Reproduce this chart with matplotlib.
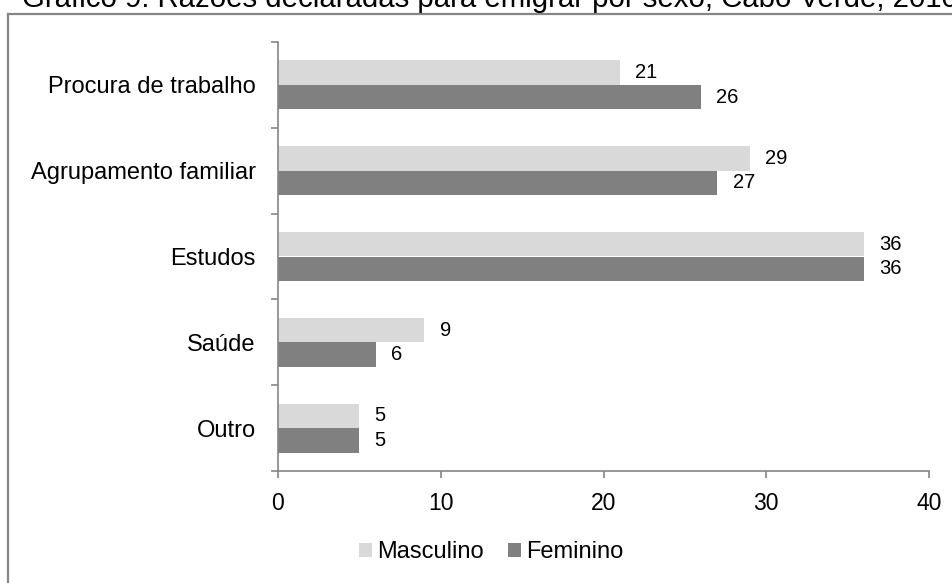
import matplotlib.pyplot as plt
import numpy as np
from matplotlib.lines import Line2D

plt.rcParams['font.family'] = ['Liberation Sans', 'DejaVu Sans']

titulo = "Gráfico 9: Razões declaradas para emigrar por sexo, Cabo Verde, 2010"
razoes = ["Procura de trabalho", "Agrupamento familiar", "Estudos", "Saúde", "Outro"]
masculino = [21, 29, 36, 9, 5]
feminino = [26, 27, 36, 6, 5]

cor_masc = "#d9d9d9"
cor_fem = "#808080"
cor_eixo = "#868686"

W, H = 953, 583
fig = plt.figure(figsize=(W / 100, H / 100), dpi=100)

# moldura do gráfico (só topo e lado esquerdo cabem na imagem)
fig.add_artist(Line2D([8 / W, 1], [1 - 14 / H, 1 - 14 / H], color=cor_eixo, lw=1.6,
                      transform=fig.transFigure))
fig.add_artist(Line2D([8 / W, 8 / W], [0, 1 - 14 / H], color=cor_eixo, lw=1.6,
                      transform=fig.transFigure))
fig.text(22 / W, 1 - 7 / H, titulo, fontsize=21.2, va='baseline', ha='left')

ax = fig.add_axes([278 / W, 1 - 471 / H, (929 - 278) / W, (471 - 42) / H])

y = np.arange(len(razoes))
h = 0.286
ax.barh(y - h / 2, masculino, height=h, color=cor_masc, label="Masculino")
ax.barh(y + h / 2, feminino, height=h, color=cor_fem, label="Feminino")

for yi, m, f in zip(y, masculino, feminino):
    ax.annotate(str(m), (m, yi - h / 2), xytext=(11, 0), textcoords='offset points',
                va='center', ha='left', fontsize=14.5)
    ax.annotate(str(f), (f, yi + h / 2), xytext=(11, 0), textcoords='offset points',
                va='center', ha='left', fontsize=14.5)

ax.set_xlim(0, 40)
ax.set_ylim(len(razoes) - 0.5, -0.5)
ax.set_xticks([0, 10, 20, 30, 40])
ax.set_yticks(y)
ax.set_yticklabels(razoes)
ax.set_yticks(np.arange(-0.5, len(razoes)), minor=True)

for s in ['top', 'right']:
    ax.spines[s].set_visible(False)
for s in ['left', 'bottom']:
    ax.spines[s].set_color(cor_eixo)
    ax.spines[s].set_linewidth(1.2)

ax.tick_params(axis='y', which='major', length=0, pad=16, labelsize=17)
ax.tick_params(axis='y', which='minor', length=5, width=1.2, color=cor_eixo)
ax.tick_params(axis='x', length=5, width=1.2, color=cor_eixo, pad=10, labelsize=16.5)

fig.legend(loc='center', bbox_to_anchor=(491 / W, 1 - 552 / H), ncol=2, frameon=False,
           fontsize=17, handlelength=0.55, handleheight=0.55, handletextpad=0.2,
           columnspacing=1.05)

fig.savefig("out.png", dpi=100)
